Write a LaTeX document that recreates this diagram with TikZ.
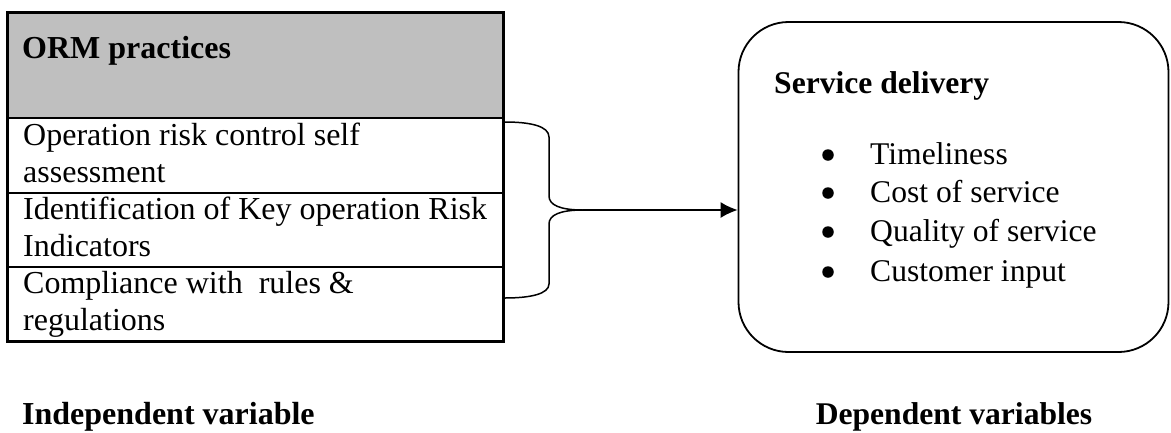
\documentclass[tikz,border=0pt]{standalone}
\usepackage{fontspec}
\setmainfont{Liberation Serif}
\usetikzlibrary{arrows.meta}
\begin{document}
\begin{tikzpicture}[x=1pt,y=-1pt,
  lefttxt/.style={anchor=base west,inner sep=0pt,font=\fontsize{32}{37}\selectfont},
  leftbold/.style={lefttxt,font=\fontsize{32}{37}\selectfont\bfseries},
  righttxt/.style={anchor=base west,inner sep=0pt,font=\fontsize{31.6}{38.9}\selectfont},
  rightbold/.style={righttxt,font=\fontsize{31.6}{38.9}\selectfont\bfseries},
  rowbox/.style={draw,line width=1.6pt,inner sep=0pt,anchor=north west,minimum width=495pt},
  bulletdot/.style={circle,fill=black,inner sep=0pt,minimum size=11.5pt},
  conn/.style={line width=1.5pt},
]
\useasboundingbox (0,0) rectangle (1171,432);
% left table
\node[rowbox,fill={rgb,255:red,191;green,191;blue,191},minimum height=105pt] (hdr) at (7,12) {};
\node[rowbox,minimum height=75pt] (r1) at (7,117) {};
\node[rowbox,minimum height=74pt] (r2) at (7,192) {};
\node[rowbox,minimum height=74pt] (r3) at (7,266) {};
\draw[line width=2.2pt] (hdr.north west) rectangle (r3.south east);
\node[leftbold] (torm) at (22,58) {ORM practices};
\node[lefttxt] (t1a) at (23,145) {Operation risk control self};
\node[lefttxt] (t1b) at (23,182) {assessment};
\node[lefttxt] (t2a) at (23,219) {Identification of Key operation Risk};
\node[lefttxt] (t2b) at (23,256) {Indicators};
\node[lefttxt] (t3a) at (23,293) {Compliance with\ \ rules \&};
\node[lefttxt] (t3b) at (23,330) {regulations};
\node[leftbold] (tind) at (22,424) {Independent variable};
% right box
\node[draw,line width=1.8pt,rounded corners=50pt,minimum width=430pt,minimum height=330pt,inner sep=0pt] (sd) at (953.5,187) {};
\node[rightbold] (tsd) at (774,93) {Service delivery};
\foreach \y/\t/\n in {164/Timeliness/a,202/Cost of service/b,241/Quality of service/c,281/Customer input/d}{
  \node[bulletdot] (b\n) at (828,\y-9) {};
  \node[righttxt] (i\n) at (870,\y) {\t};
}
\node[rightbold,anchor=base] (tdep) at (954,424) {Dependent variables};
% brace
\coordinate (tip) at (583,210);
\draw[conn] (505,122) .. controls (530,122) and (549,126) .. (549,137) -- (549,196) .. controls (549,205) and (560,210) .. (tip);
\draw[conn] (505,298) .. controls (530,298) and (549,294) .. (549,284) -- (549,224) .. controls (549,215) and (560,210) .. (tip);
\draw[conn,-{Latex[length=17pt,width=16pt]}] (tip) -- (tip -| sd.west);
\end{tikzpicture}
\end{document}
